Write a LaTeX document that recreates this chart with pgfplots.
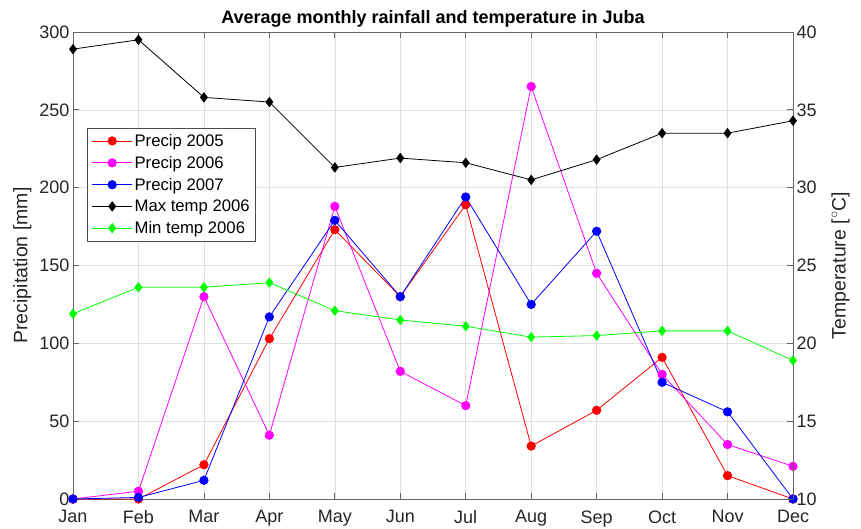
\documentclass[border=0pt]{standalone}
\usepackage{pgfplots}
\pgfplotsset{compat=1.18}
\usepackage{fontspec}
\setmainfont{Liberation Sans}
\definecolor{axgray}{gray}{0.4}
\definecolor{txtgray}{gray}{0.15}
\definecolor{gridgray}{gray}{0.88}
\definecolor{pmag}{rgb}{1,0,1}
\definecolor{pgreen}{rgb}{0,1,0}
\definecolor{pred}{rgb}{1,0,0}
\definecolor{pblue}{rgb}{0,0,1}
\begin{document}
\begin{tikzpicture}
\useasboundingbox (-73pt,-29pt) rectangle (788pt,499pt);
\pgfplotsset{
  common/.style={
    scale only axis, width=720pt, height=467pt,
    xmin=0, xmax=11,
    xtick={0,...,11},
    /pgf/number format/assume math mode=true,
    tick label style={font=\fontsize{18}{20}\selectfont, text=txtgray},
    label style={font=\fontsize{19.5}{22}\selectfont, text=txtgray},
    axis line style={axgray, line width=0.8pt},
    tick style={axgray, line width=0.8pt},
    major tick length=6pt,
    tick align=inside,
    every axis plot/.append style={line width=0.8pt},
  }
}
\begin{axis}[common,
  ymin=0, ymax=300, ytick={0,50,...,300},
  xticklabels={Jan,Feb,Mar,Apr,May,Jun,Jul,Aug,Sep,Oct,Nov,Dec},
  xtick pos=both, ytick pos=left,
  grid=major, grid style={gridgray, line width=0.6pt},
  ylabel={Precipitation [mm]},
  ylabel style={at={(axis description cs:0,0.5)}, anchor=south, yshift=38pt},
  title={Average monthly rainfall and temperature in Juba},
  title style={font=\bfseries\fontsize{18}{20}\selectfont, text=black, yshift=-5pt},
  xticklabel style={yshift=-8pt},
]
\addplot[pred, mark=*, mark size=4.2pt] coordinates {
(0,0) (1,0) (2,22) (3,103) (4,173) (5,130) (6,189) (7,34) (8,57) (9,91) (10,15) (11,0)};
\addplot[pmag, mark=*, mark size=4.2pt] coordinates {
(0,0) (1,5) (2,130) (3,41) (4,188) (5,82) (6,60) (7,265) (8,145) (9,80) (10,35) (11,21)};
\addplot[pblue, mark=*, mark size=4.2pt] coordinates {
(0,0) (1,1) (2,12) (3,117) (4,179) (5,130) (6,194) (7,125) (8,172) (9,75) (10,56) (11,0)};
\end{axis}
\begin{axis}[common,
  ymin=10, ymax=40, ytick={10,15,...,40},
  axis y line*=right, axis x line=none,
  ylabel={Temperature [$^\circ$C]},
  ylabel style={at={(axis description cs:1,0.5)}, anchor=north, rotate=0, yshift=-35pt},
  legend style={at={(axis cs:0.22,33.85)}, anchor=north west,
    font=\fontsize{16.7}{19}\selectfont, draw=black!70, line width=0.8pt,
    row sep=4.3pt, inner xsep=4pt, inner ysep=4pt},
  legend cell align=left,
  legend image code/.code={\draw[mark repeat=2,mark phase=2] plot coordinates {(0pt,0pt) (20pt,0pt) (40pt,0pt)};},
]
\addlegendimage{pred, mark=*, mark size=4.2pt, line width=0.8pt}
\addlegendentry{Precip 2005}
\addlegendimage{pmag, mark=*, mark size=4.2pt, line width=0.8pt}
\addlegendentry{Precip 2006}
\addlegendimage{pblue, mark=*, mark size=4.2pt, line width=0.8pt}
\addlegendentry{Precip 2007}
\addplot[black, mark=diamond*, mark size=4.6pt] coordinates {
(0,38.9) (1,39.5) (2,35.8) (3,35.5) (4,31.3) (5,31.9) (6,31.6) (7,30.5) (8,31.8) (9,33.5) (10,33.5) (11,34.3)};
\addlegendentry{Max temp 2006}
\addplot[pgreen, mark=diamond*, mark size=4.6pt] coordinates {
(0,21.9) (1,23.6) (2,23.6) (3,23.9) (4,22.1) (5,21.5) (6,21.1) (7,20.4) (8,20.5) (9,20.8) (10,20.8) (11,18.9)};
\addlegendentry{Min temp 2006}
\end{axis}
\end{tikzpicture}
\end{document}
